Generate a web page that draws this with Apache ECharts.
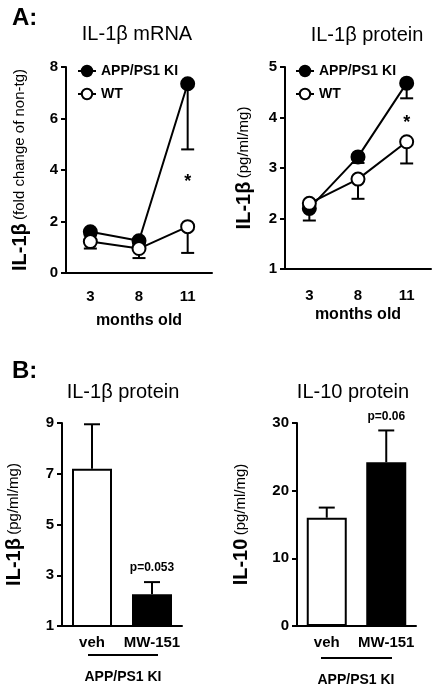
<!DOCTYPE html>
<html><head><meta charset="utf-8">
<script src="https://cdn.jsdelivr.net/npm/echarts@6/dist/echarts.min.js"></script>
<style>html,body{margin:0;padding:0;background:#fff}#c{width:437px;height:691px}</style>
</head><body><div id="c"></div>
<script>
// ---- data ----
const months = ['3', '8', '11'];
const mrnaApp = [1.6, 1.25, 7.35];
const mrnaAppLow = [1.45, 1.1, 4.8];
const mrnaWt = [1.22, 0.95, 1.8];
const mrnaWtLow = [0.95, 0.58, 0.78];
const protApp = [2.2, 3.22, 4.68];
const protAppLow = [1.96, 3.1, 4.38];
const protWt = [2.3, 2.78, 3.52];
const protWtLow = [2.25, 2.39, 3.09];
const treatments = ['veh', 'MW-151'];
const il1bBar = [7.2, 2.25];
const il1bBarHigh = [8.95, 2.73];
const il10Bar = [16, 24.2];
const il10BarHigh = [17.5, 28.9];
const mrnaTicks = [0, 8, 2];     // min, max, interval
const protTicks = [1, 5, 1];
const il1bTicks = [1, 9, 2];
const il10Ticks = [0, 30, 10];
const mrnaStar = ['11', 3.55, '*'];
const protStar = ['11', 3.9, '*'];
const il1bP = ['MW-151', 3.3, 'p=0.053'];
const il10P = ['MW-151', 30.9, 'p=0.06'];

const FF = "'Liberation Sans', Arial, sans-serif";
const BLK = '#000';

function errItem(cap) {
  return function (params, api) {
    const x = api.value(0), y0 = api.value(1), y1 = api.value(2);
    const p0 = api.coord([x, y0]), p1 = api.coord([x, y1]);
    const h = cap / 2;
    return {
      type: 'group', children: [
        { type: 'line', shape: { x1: p0[0], y1: p0[1], x2: p1[0], y2: p1[1] }, style: { stroke: BLK, lineWidth: 2 } },
        { type: 'line', shape: { x1: p1[0] - h, y1: p1[1], x2: p1[0] + h, y2: p1[1] }, style: { stroke: BLK, lineWidth: 2 } }
      ]
    };
  };
}

function catAxis(gi, cats, labelMargin, tickLen, name, nameGap) {
  return {
    type: 'category', gridIndex: gi, data: cats, boundaryGap: true,
    axisLine: { lineStyle: { color: BLK, width: 2 } },
    axisTick: { alignWithLabel: true, length: tickLen, lineStyle: { color: BLK, width: 2 } },
    axisLabel: { interval: 0, color: BLK, fontFamily: FF, fontWeight: 'bold', fontSize: 15, margin: labelMargin },
    name: name, nameLocation: 'middle', nameGap: nameGap,
    nameTextStyle: { color: BLK, fontFamily: FF, fontWeight: 'bold', fontSize: 16 }
  };
}
function valAxis(gi, t, bold, normal, nameGap) {
  return {
    type: 'value', gridIndex: gi, min: t[0], max: t[1], interval: t[2],
    splitLine: { show: false },
    axisLine: { show: true, lineStyle: { color: BLK, width: 2 } },
    axisTick: { show: true, length: 5, lineStyle: { color: BLK, width: 2 } },
    axisLabel: { color: BLK, fontFamily: FF, fontWeight: 'bold', fontSize: 15, margin: 8 },
    name: '{b|' + bold + '} {n|' + normal + '}', nameLocation: 'middle', nameRotate: 90, nameGap: nameGap,
    nameTextStyle: {
      rich: {
        b: { fontFamily: FF, fontWeight: 'bold', fontSize: 20, color: BLK },
        n: { fontFamily: FF, fontSize: 15, color: BLK }
      }
    }
  };
}
function lineSeries(name, gi, data, filled) {
  return {
    type: 'line', name: name, xAxisIndex: gi, yAxisIndex: gi, data: data, z: 3,
    symbol: 'circle', symbolSize: 13, showSymbol: true,
    lineStyle: { color: BLK, width: 2 },
    itemStyle: { color: filled ? BLK : '#fff', borderColor: BLK, borderWidth: 2 }
  };
}
function errSeries(gi, lows, vals, cap) {
  return {
    type: 'custom', xAxisIndex: gi, yAxisIndex: gi, z: 1, renderItem: errItem(cap),
    encode: { x: 0, y: [1, 2] },
    data: vals.map((v, i) => [i, v, lows[i]])
  };
}
function noteSeries(gi, note, size) {
  return {
    type: 'scatter', xAxisIndex: gi, yAxisIndex: gi, symbolSize: 0, clip: false, silent: true,
    itemStyle: { opacity: 1, color: BLK },
    data: [[note[0], note[1]]],
    label: { show: true, position: 'inside', formatter: note[2], color: BLK, opacity: 1, fontFamily: FF, fontWeight: 'bold', fontSize: size }
  };
}
function barSeries(gi, vals) {
  return {
    type: 'bar', xAxisIndex: gi, yAxisIndex: gi, barWidth: 40, z: 2,
    data: vals.map((v, i) => ({ value: v, itemStyle: { color: i === 0 ? '#fff' : BLK, borderColor: BLK, borderWidth: 2 } }))
  };
}
function barErr(gi, vals, highs) {
  return {
    type: 'custom', xAxisIndex: gi, yAxisIndex: gi, z: 1, renderItem: errItem(16),
    encode: { x: 0, y: [1, 2] },
    data: vals.map((v, i) => [i, v, highs[i]])
  };
}

const legendStyle = {
  orient: 'vertical', itemWidth: 18, itemHeight: 13, itemGap: 9,
  textStyle: { color: BLK, fontFamily: FF, fontWeight: 'bold', fontSize: 14 },
  data: ['APP/PS1 KI', 'WT']
};

const option = {
  animation: false,
  backgroundColor: '#fff',
  grid: [
    { left: 66, top: 67, width: 146, height: 206 },
    { left: 285, top: 67, width: 146, height: 202 },
    { left: 62, top: 423, width: 120, height: 203 },
    { left: 297, top: 423, width: 119, height: 203 }
  ],
  legend: [
    Object.assign({ left: 72, top: 59 }, legendStyle),
    Object.assign({ left: 290, top: 59 }, legendStyle)
  ],
  xAxis: [
    catAxis(0, months, 16, 9, 'months old', 40),
    catAxis(1, months, 19, 9, 'months old', 38),
    catAxis(2, treatments, 9, 4, '', 0),
    catAxis(3, treatments, 9, 4, '', 0)
  ],
  yAxis: [
    valAxis(0, mrnaTicks, 'IL-1β', '(fold change of non-tg)', 36),
    valAxis(1, protTicks, 'IL-1β', '(pg/ml/mg)', 31),
    valAxis(2, il1bTicks, 'IL-1β', '(pg/ml/mg)', 38),
    valAxis(3, il10Ticks, 'IL-10', '(pg/ml/mg)', 46)
  ],
  series: [
    errSeries(0, mrnaAppLow, mrnaApp, 13),
    errSeries(0, mrnaWtLow, mrnaWt, 13),
    lineSeries('APP/PS1 KI', 0, mrnaApp, true),
    lineSeries('WT', 0, mrnaWt, false),
    noteSeries(0, mrnaStar, 18),
    errSeries(1, protAppLow, protApp, 13),
    errSeries(1, protWtLow, protWt, 13),
    lineSeries('APP/PS1 KI', 1, protApp, true),
    lineSeries('WT', 1, protWt, false),
    noteSeries(1, protStar, 18),
    barErr(2, il1bBar, il1bBarHigh),
    barSeries(2, il1bBar),
    noteSeries(2, il1bP, 12),
    barErr(3, il10Bar, il10BarHigh),
    barSeries(3, il10Bar),
    noteSeries(3, il10P, 12)
  ],
  graphic: [
    { type: 'text', x: 12, y: 18, style: { text: 'A:', font: "bold 24px 'Liberation Sans', Arial", fill: BLK, verticalAlign: 'middle' } },
    { type: 'text', x: 12, y: 371, style: { text: 'B:', font: "bold 24px 'Liberation Sans', Arial", fill: BLK, verticalAlign: 'middle' } },
    { type: 'text', x: 137, y: 34, style: { text: 'IL-1β mRNA', font: "20px 'Liberation Sans', Arial", fill: BLK, align: 'center', verticalAlign: 'middle' } },
    { type: 'text', x: 367, y: 35, style: { text: 'IL-1β protein', font: "20px 'Liberation Sans', Arial", fill: BLK, align: 'center', verticalAlign: 'middle' } },
    { type: 'text', x: 123, y: 392, style: { text: 'IL-1β protein', font: "20px 'Liberation Sans', Arial", fill: BLK, align: 'center', verticalAlign: 'middle' } },
    { type: 'text', x: 353, y: 392, style: { text: 'IL-10 protein', font: "20px 'Liberation Sans', Arial", fill: BLK, align: 'center', verticalAlign: 'middle' } },
    { type: 'rect', shape: { x: 88, y: 654, width: 70, height: 2 }, style: { fill: BLK } },
    { type: 'rect', shape: { x: 321, y: 657, width: 71, height: 2 }, style: { fill: BLK } },
    { type: 'text', x: 123, y: 677, style: { text: 'APP/PS1 KI', font: "bold 14px 'Liberation Sans', Arial", fill: BLK, align: 'center', verticalAlign: 'middle' } },
    { type: 'text', x: 356, y: 680, style: { text: 'APP/PS1 KI', font: "bold 14px 'Liberation Sans', Arial", fill: BLK, align: 'center', verticalAlign: 'middle' } }
  ]
};
const chart = echarts.init(document.getElementById('c'), null, { renderer: 'canvas' });
chart.setOption(option);
</script></body></html>
